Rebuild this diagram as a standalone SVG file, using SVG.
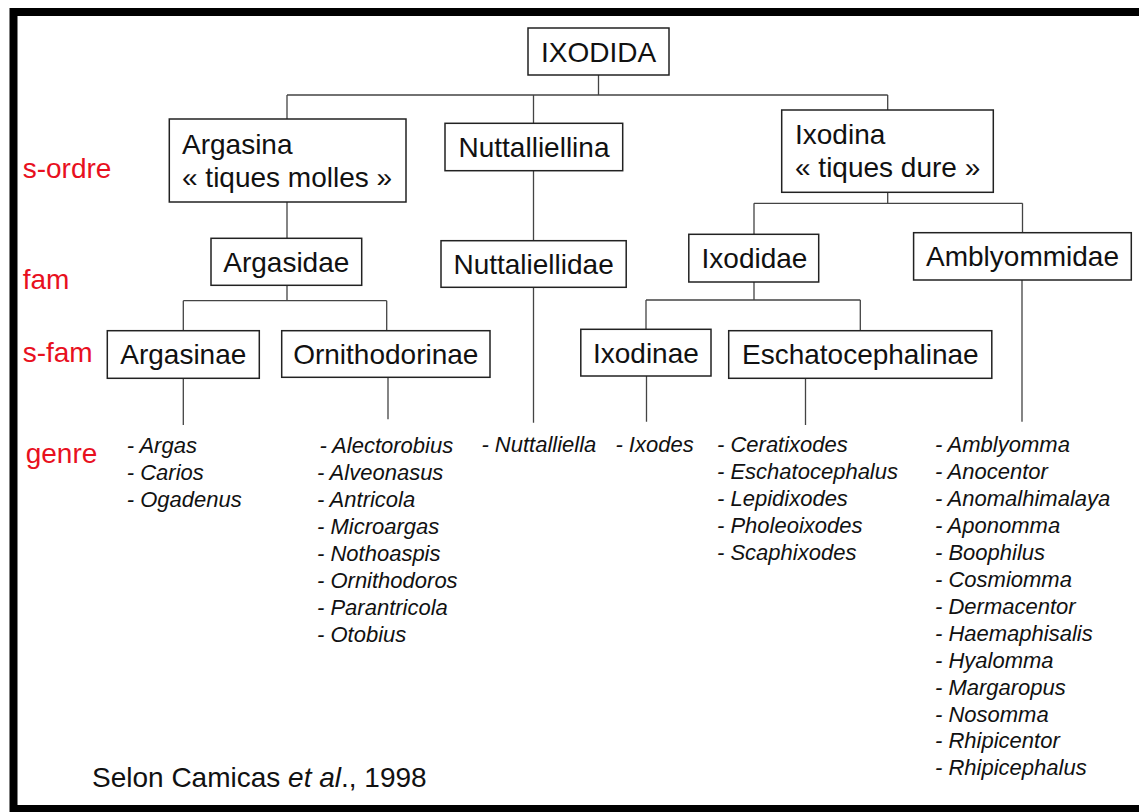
<svg xmlns="http://www.w3.org/2000/svg" width="1139" height="812" viewBox="0 0 1139 812">
<style>
.box{fill:#fff;stroke:#222;stroke-width:1.5}
.t{font-family:"Liberation Sans",Arial,sans-serif;font-size:28px;fill:#111}
.r{font-family:"Liberation Sans",Arial,sans-serif;font-size:28px;fill:#e8101e}
.g{font-family:"Liberation Sans",Arial,sans-serif;font-size:22px;font-style:italic;fill:#111}
.c{fill:none;stroke:#444;stroke-width:1.3}
</style>
<rect x="0" y="0" width="1139" height="812" fill="#fff"/>
<rect x="13.5" y="12" width="1140" height="797" fill="none" stroke="#000" stroke-width="8"/>
<g id="connectors">
<path class="c" d="M598.5 75V95M287 95H887.7M287 95V119M533.5 95V123.3M887.7 95V110"/>
<path class="c" d="M287 202V238.3M287 285.3V300.7M183.3 300.7H386.7M183.3 300.7V330.7M386.7 300.7V330.7M183.3 378.3V425M388 377V419.3"/>
<path class="c" d="M533.5 170.7V240.7M533.5 287.3V422.7"/>
<path class="c" d="M887.7 192.3V203.3M754 203.3H1022.5M754 203.3V234.3M1022.5 203.3V232.7"/>
<path class="c" d="M754 282V300M646 300H860.3M646 300V329.3M860.3 300V330.7M646.5 376V421.7M805.5 378.3V425M1022 280V421.7"/>
</g>
<g id="labels">
<text class="r" x="22.7" y="178.3">s-ordre</text>
<text class="r" x="22.7" y="289">fam</text>
<text class="r" x="22.7" y="361.7">s-fam</text>
<text class="r" x="25.7" y="463">genre</text>
</g>
<g id="n-ixodida"><rect class="box" x="528" y="28" width="141" height="47"/><text class="t" x="598.5" y="62" text-anchor="middle">IXODIDA</text></g>
<g id="n-argasina"><rect class="box" x="169.3" y="119" width="236.7" height="83"/><text class="t" x="182" y="154">Argasina</text><text class="t" x="182" y="186.7">« tiques molles »</text></g>
<g id="n-nuttalliellina"><rect class="box" x="445" y="123.3" width="177.7" height="47.4"/><text class="t" x="534" y="156.7" text-anchor="middle">Nuttalliellina</text></g>
<g id="n-ixodina"><rect class="box" x="781.7" y="110" width="211.6" height="82.3"/><text class="t" x="795" y="144">Ixodina</text><text class="t" x="795" y="176.7">« tiques dure »</text></g>
<g id="n-argasidae"><rect class="box" x="211" y="238.3" width="150.7" height="47"/><text class="t" x="286.3" y="271.7" text-anchor="middle">Argasidae</text></g>
<g id="n-nuttaliellidae"><rect class="box" x="441" y="240.7" width="185.2" height="46.6"/><text class="t" x="533.6" y="273.5" text-anchor="middle">Nuttaliellidae</text></g>
<g id="n-ixodidae"><rect class="box" x="688.8" y="234.3" width="129.9" height="47.7"/><text class="t" x="754.5" y="268.3" text-anchor="middle">Ixodidae</text></g>
<g id="n-amblyommidae"><rect class="box" x="913.6" y="232.7" width="217.7" height="47.3"/><text class="t" x="1022.5" y="265.7" text-anchor="middle">Amblyommidae</text></g>
<g id="n-argasinae"><rect class="box" x="107.3" y="330.7" width="152" height="47.6"/><text class="t" x="183.3" y="364" text-anchor="middle">Argasinae</text></g>
<g id="n-ornithodorinae"><rect class="box" x="281.7" y="330.7" width="208.3" height="46.6"/><text class="t" x="385.8" y="364" text-anchor="middle">Ornithodorinae</text></g>
<g id="n-ixodinae"><rect class="box" x="580.8" y="329.3" width="130.2" height="46.7"/><text class="t" x="645.9" y="363" text-anchor="middle">Ixodinae</text></g>
<g id="n-eschatocephalinae"><rect class="box" x="728.7" y="330.7" width="263.1" height="47.6"/><text class="t" x="860.3" y="364" text-anchor="middle">Eschatocephalinae</text></g>
<g id="genera-argasinae" class="g">
<text class="g" x="126.8" y="453">- Argas</text>
<text class="g" x="126.8" y="480">- Carios</text>
<text class="g" x="126.8" y="507">- Ogadenus</text>
</g>
<g id="genera-ornithodorinae">
<text class="g" x="319.5" y="453">-  Alectorobius</text>
<text class="g" x="317" y="480">- Alveonasus</text>
<text class="g" x="317" y="507">- Antricola</text>
<text class="g" x="317" y="534">- Microargas</text>
<text class="g" x="317" y="561">- Nothoaspis</text>
<text class="g" x="317" y="588">- Ornithodoros</text>
<text class="g" x="317" y="615">- Parantricola</text>
<text class="g" x="317" y="642">- Otobius</text>
</g>
<g id="genera-nuttaliellidae"><text class="g" x="481.4" y="452">- Nuttalliella</text></g>
<g id="genera-ixodinae"><text class="g" x="615.4" y="452">- Ixodes</text></g>
<g id="genera-eschatocephalinae">
<text class="g" x="717" y="452">- Ceratixodes</text>
<text class="g" x="717" y="479">- Eschatocephalus</text>
<text class="g" x="717" y="506">- Lepidixodes</text>
<text class="g" x="717" y="533">- Pholeoixodes</text>
<text class="g" x="717" y="560">- Scaphixodes</text>
</g>
<g id="genera-amblyommidae">
<text class="g" x="935" y="452">- Amblyomma</text>
<text class="g" x="935" y="479">- Anocentor</text>
<text class="g" x="935" y="506">- Anomalhimalaya</text>
<text class="g" x="935" y="533">- Aponomma</text>
<text class="g" x="935" y="560">- Boophilus</text>
<text class="g" x="935" y="587">- Cosmiomma</text>
<text class="g" x="935" y="614">- Dermacentor</text>
<text class="g" x="935" y="641">- Haemaphisalis</text>
<text class="g" x="935" y="668">- Hyalomma</text>
<text class="g" x="935" y="695">- Margaropus</text>
<text class="g" x="935" y="721.5">- Nosomma</text>
<text class="g" x="935" y="748">- Rhipicentor</text>
<text class="g" x="935" y="775">- Rhipicephalus</text>
</g>
<text class="t" x="92" y="787.3">Selon Camicas <tspan font-style="italic">et al</tspan>., 1998</text>
</svg>
